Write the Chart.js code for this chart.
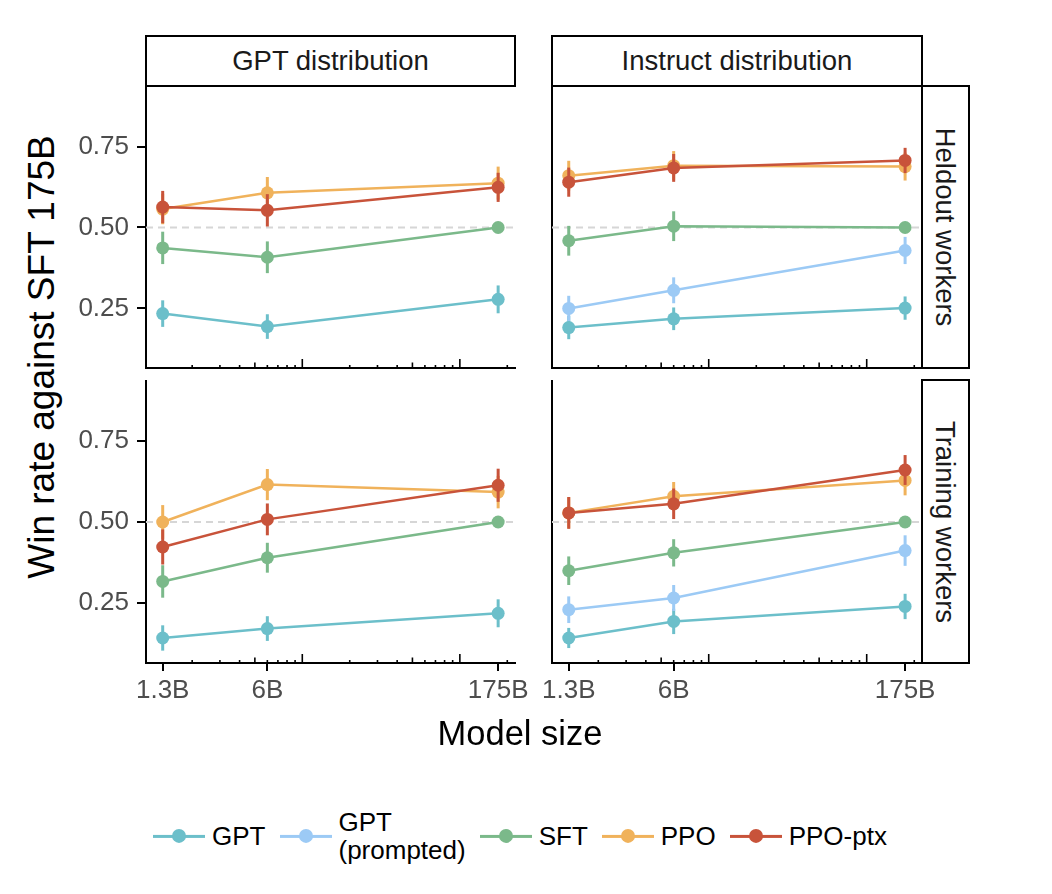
<!DOCTYPE html>
<html>
<head>
<meta charset="utf-8">
<script src="https://cdn.jsdelivr.net/npm/chart.js@4.4.1/dist/chart.umd.min.js"></script>
<style>
  html, body { margin:0; padding:0; background:#fff; }
  body { width:1052px; height:894px; position:relative; overflow:hidden;
         font-family:"Liberation Sans", Arial, Helvetica, sans-serif; }
  canvas.pane { position:absolute; z-index:1; }
  .strip { position:absolute; box-sizing:border-box; border:2px solid #000; background:#fff;
           color:#1a1a1a; font-size:27.5px; display:flex; align-items:center; justify-content:center; z-index:2; }
  .vtext { transform:rotate(90deg); white-space:nowrap; }
  .title { position:absolute; color:#000; white-space:nowrap; z-index:3; }
  #legend { position:absolute; left:0; width:1040px; top:836px; transform:translateY(-50%);
            display:flex; justify-content:center; align-items:center; gap:14px; z-index:3; }
  .item { display:flex; align-items:center; }
  .key { position:relative; width:52px; height:16px; }
  .key .ln { position:absolute; left:0; right:0; top:7px; height:2.5px; }
  .key .dt { position:absolute; left:19px; top:1px; width:14px; height:14px; border-radius:50%; }
  .lbl { margin-left:7px; font-size:26px; color:#000; white-space:pre-line; line-height:1.08; }
</style>
</head>
<body>

<canvas class="pane" id="pTL"></canvas>
<canvas class="pane" id="pTR"></canvas>
<canvas class="pane" id="pBL"></canvas>
<canvas class="pane" id="pBR"></canvas>

<div class="strip" id="sColA" style="left:145px;top:35px;width:371px;height:52px;"></div>
<div class="strip" id="sColB" style="left:551px;top:35px;width:372px;height:52px;"></div>
<div class="strip" id="sRowA" style="left:921px;top:85px;width:49px;height:284px;"><div class="vtext"></div></div>
<div class="strip" id="sRowB" style="left:921px;top:379px;width:49px;height:285px;"><div class="vtext"></div></div>

<div class="title" id="yTitle" style="left:42px;top:357px;font-size:37px;transform:translate(-50%,-50%) rotate(-90deg);"></div>
<div class="title" id="xTitle" style="left:520px;top:733px;font-size:34.5px;transform:translate(-50%,-50%);"></div>

<div id="legend"></div>

<script>
// ---------------- data ----------------
const modelSizes  = [1.3e9, 6e9, 175e9];
const sizeLabels  = ['1.3B', '6B', '175B'];
const yTickValues = [0.25, 0.50, 0.75];
const seriesNames = ['GPT', 'GPT\n(prompted)', 'SFT', 'PPO', 'PPO-ptx'];
const seriesColors = ['#6cbfca', '#9ccaf5', '#7bb98a', '#f0b25b', '#c8533a'];
const columnLabels = ['GPT distribution', 'Instruct distribution'];
const rowLabels    = ['Heldout workers', 'Training workers'];
const yTitleText = 'Win rate against SFT 175B';
const xTitleText = 'Model size';

// rows follow seriesNames order; null = series not shown in that panel
const winGptHeldout = [
  [0.234, 0.194, 0.278],
  null,
  [0.437, 0.408, 0.500],
  [0.557, 0.607, 0.637],
  [0.563, 0.553, 0.624]
];
const errGptHeldout = [
  [0.041, 0.038, 0.043],
  null,
  [0.050, 0.049, 0.000],
  [0.047, 0.049, 0.051],
  [0.050, 0.050, 0.045]
];

const winInstructHeldout = [
  [0.191, 0.218, 0.251],
  [0.250, 0.306, 0.429],
  [0.459, 0.504, 0.500],
  [0.660, 0.691, 0.688],
  [0.640, 0.684, 0.707]
];
const errInstructHeldout = [
  [0.036, 0.035, 0.036],
  [0.039, 0.040, 0.042],
  [0.046, 0.046, 0.000],
  [0.046, 0.045, 0.043],
  [0.045, 0.043, 0.039]
];

const winGptTraining = [
  [0.143, 0.172, 0.219],
  null,
  [0.317, 0.390, 0.500],
  [0.500, 0.615, 0.592],
  [0.423, 0.508, 0.613]
];
const errGptTraining = [
  [0.039, 0.038, 0.043],
  null,
  [0.050, 0.046, 0.000],
  [0.052, 0.048, 0.050],
  [0.054, 0.049, 0.051]
];

const winInstructTraining = [
  [0.143, 0.194, 0.240],
  [0.230, 0.266, 0.412],
  [0.350, 0.405, 0.500],
  [0.528, 0.579, 0.628],
  [0.528, 0.556, 0.660]
];
const errInstructTraining = [
  [0.031, 0.039, 0.039],
  [0.041, 0.040, 0.047],
  [0.044, 0.042, 0.000],
  [0.048, 0.044, 0.046],
  [0.049, 0.047, 0.046]
];

const refLine = 0.5;
const yMin = 0.066, yMax = 0.937;
const xMin = Math.pow(10, 9.008), xMax = Math.pow(10, 11.35);

// ---------------- chart helpers ----------------
Chart.defaults.font.family = '"Liberation Sans", Arial, Helvetica, sans-serif';

const panelDecor = {
  id: 'panelDecor',
  beforeDatasetsDraw(chart) {
    const ctx = chart.ctx, xs = chart.scales.x, ys = chart.scales.y, a = chart.chartArea;
    ctx.save();
    // reference dashed line
    const yr = ys.getPixelForValue(refLine);
    ctx.strokeStyle = '#d6d6d6'; ctx.lineWidth = 2; ctx.setLineDash([7, 5]);
    ctx.beginPath(); ctx.moveTo(a.left, yr); ctx.lineTo(a.right, yr); ctx.stroke();
    ctx.setLineDash([]);
    // log ticks (inside, pointing up from the x axis)
    ctx.strokeStyle = '#000'; ctx.lineWidth = 1.6;
    const e0 = Math.floor(Math.log10(xs.min)), e1 = Math.ceil(Math.log10(xs.max));
    for (let e = e0; e <= e1; e++) {
      for (let k = 1; k <= 9; k++) {
        const v = k * Math.pow(10, e);
        if (v < xs.min || v > xs.max) continue;
        const len = k === 1 ? 9 : (k === 5 ? 5.5 : 3);
        const px = xs.getPixelForValue(v);
        ctx.beginPath(); ctx.moveTo(px, a.bottom); ctx.lineTo(px, a.bottom - len); ctx.stroke();
      }
    }
    ctx.restore();
  },
  afterDatasetDraw(chart, args) {
    const ds = chart.data.datasets[args.index];
    const xs = chart.scales.x, ys = chart.scales.y, ctx = chart.ctx;
    ctx.save();
    ctx.strokeStyle = ds.borderColor; ctx.lineWidth = 3; ctx.lineCap = 'butt';
    ds.errVals.forEach((e, j) => {
      if (!e) return;
      const v = ds.winVals[j];
      const px = xs.getPixelForValue(modelSizes[j]);
      ctx.beginPath();
      ctx.moveTo(px, ys.getPixelForValue(v - e));
      ctx.lineTo(px, ys.getPixelForValue(v + e));
      ctx.stroke();
    });
    // redraw points on top of the bar
    ctx.fillStyle = ds.borderColor;
    ds.winVals.forEach((v, j) => {
      ctx.beginPath();
      ctx.arc(xs.getPixelForValue(modelSizes[j]), ys.getPixelForValue(v), 6.5, 0, Math.PI * 2);
      ctx.fill();
    });
    ctx.restore();
  }
};

function makePanel(id, left, top, plotW, plotH, win, err, showY, showX) {
  const yW = showY ? 80 : 10;
  const xH = showX ? 62 : 2;
  const padR = 40;
  const cv = document.getElementById(id);
  cv.width = yW + plotW + padR; cv.height = plotH + xH;
  cv.style.left = (left - yW) + 'px'; cv.style.top = top + 'px';
  cv.style.width = cv.width + 'px'; cv.style.height = cv.height + 'px';

  const datasets = [];
  win.forEach((vals, s) => {
    if (!vals) return;
    datasets.push({
      label: seriesNames[s],
      data: vals.map((v, j) => ({ x: modelSizes[j], y: v })),
      winVals: vals, errVals: err[s],
      borderColor: seriesColors[s], backgroundColor: seriesColors[s],
      borderWidth: 2.5, pointRadius: 0, pointHoverRadius: 0,
      tension: 0, clip: false, order: seriesNames.length - s
    });
  });

  new Chart(cv, {
    type: 'line',
    data: { datasets },
    options: {
      responsive: false, animation: false, devicePixelRatio: 1,
      layout: { padding: { left: 0, top: 0, bottom: 0, right: padR } },
      plugins: { legend: { display: false }, tooltip: { enabled: false } },
      events: [],
      scales: {
        x: {
          type: 'logarithmic', min: xMin, max: xMax,
          afterBuildTicks: sc => { sc.ticks = modelSizes.map(v => ({ value: v })); },
          afterFit: sc => { sc.height = xH; sc.paddingLeft = 0; sc.paddingRight = 0; },
          border: { display: true, color: '#000', width: 2 },
          grid: { display: showX, drawOnChartArea: false, drawTicks: true, tickLength: 8,
                  tickColor: '#000', tickWidth: 2, lineWidth: 2, color: '#000' },
          ticks: { display: showX, autoSkip: false, maxRotation: 0, padding: 4,
                   color: '#4d4d4d', font: { size: 26 },
                   callback: (v) => { const i = modelSizes.indexOf(v); return i >= 0 ? sizeLabels[i] : ''; } }
        },
        y: {
          type: 'linear', min: yMin, max: yMax,
          afterBuildTicks: sc => { sc.ticks = yTickValues.map(v => ({ value: v })); },
          afterFit: sc => { sc.width = yW; sc.paddingTop = 0; sc.paddingBottom = 0; },
          border: { display: true, color: '#000', width: 2 },
          grid: { display: showY, drawOnChartArea: false, drawTicks: true, tickLength: 9,
                  tickColor: '#000', tickWidth: 2, lineWidth: 2, color: '#000' },
          ticks: { display: showY, padding: 8, color: '#4d4d4d', font: { size: 26 },
                   callback: v => Number(v).toFixed(2) }
        }
      }
    },
    plugins: [panelDecor]
  });
}

makePanel('pTL', 146, 86, 369, 282, winGptHeldout, errGptHeldout, true, false);
makePanel('pTR', 552, 86, 370, 282, winInstructHeldout, errInstructHeldout, false, false);
makePanel('pBL', 146, 380, 369, 283, winGptTraining, errGptTraining, true, true);
makePanel('pBR', 552, 380, 370, 283, winInstructTraining, errInstructTraining, false, true);

// ---------------- text ----------------
document.getElementById('sColA').textContent = columnLabels[0];
document.getElementById('sColB').textContent = columnLabels[1];
document.querySelector('#sRowA .vtext').textContent = rowLabels[0];
document.querySelector('#sRowB .vtext').textContent = rowLabels[1];
document.getElementById('yTitle').textContent = yTitleText;
document.getElementById('xTitle').textContent = xTitleText;

const legend = document.getElementById('legend');
seriesNames.forEach((name, s) => {
  const it = document.createElement('div'); it.className = 'item';
  const key = document.createElement('div'); key.className = 'key';
  const ln = document.createElement('div'); ln.className = 'ln'; ln.style.background = seriesColors[s];
  const dt = document.createElement('div'); dt.className = 'dt'; dt.style.background = seriesColors[s];
  key.appendChild(ln); key.appendChild(dt);
  const lb = document.createElement('div'); lb.className = 'lbl'; lb.textContent = name;
  it.appendChild(key); it.appendChild(lb);
  legend.appendChild(it);
});
</script>
</body>
</html>
